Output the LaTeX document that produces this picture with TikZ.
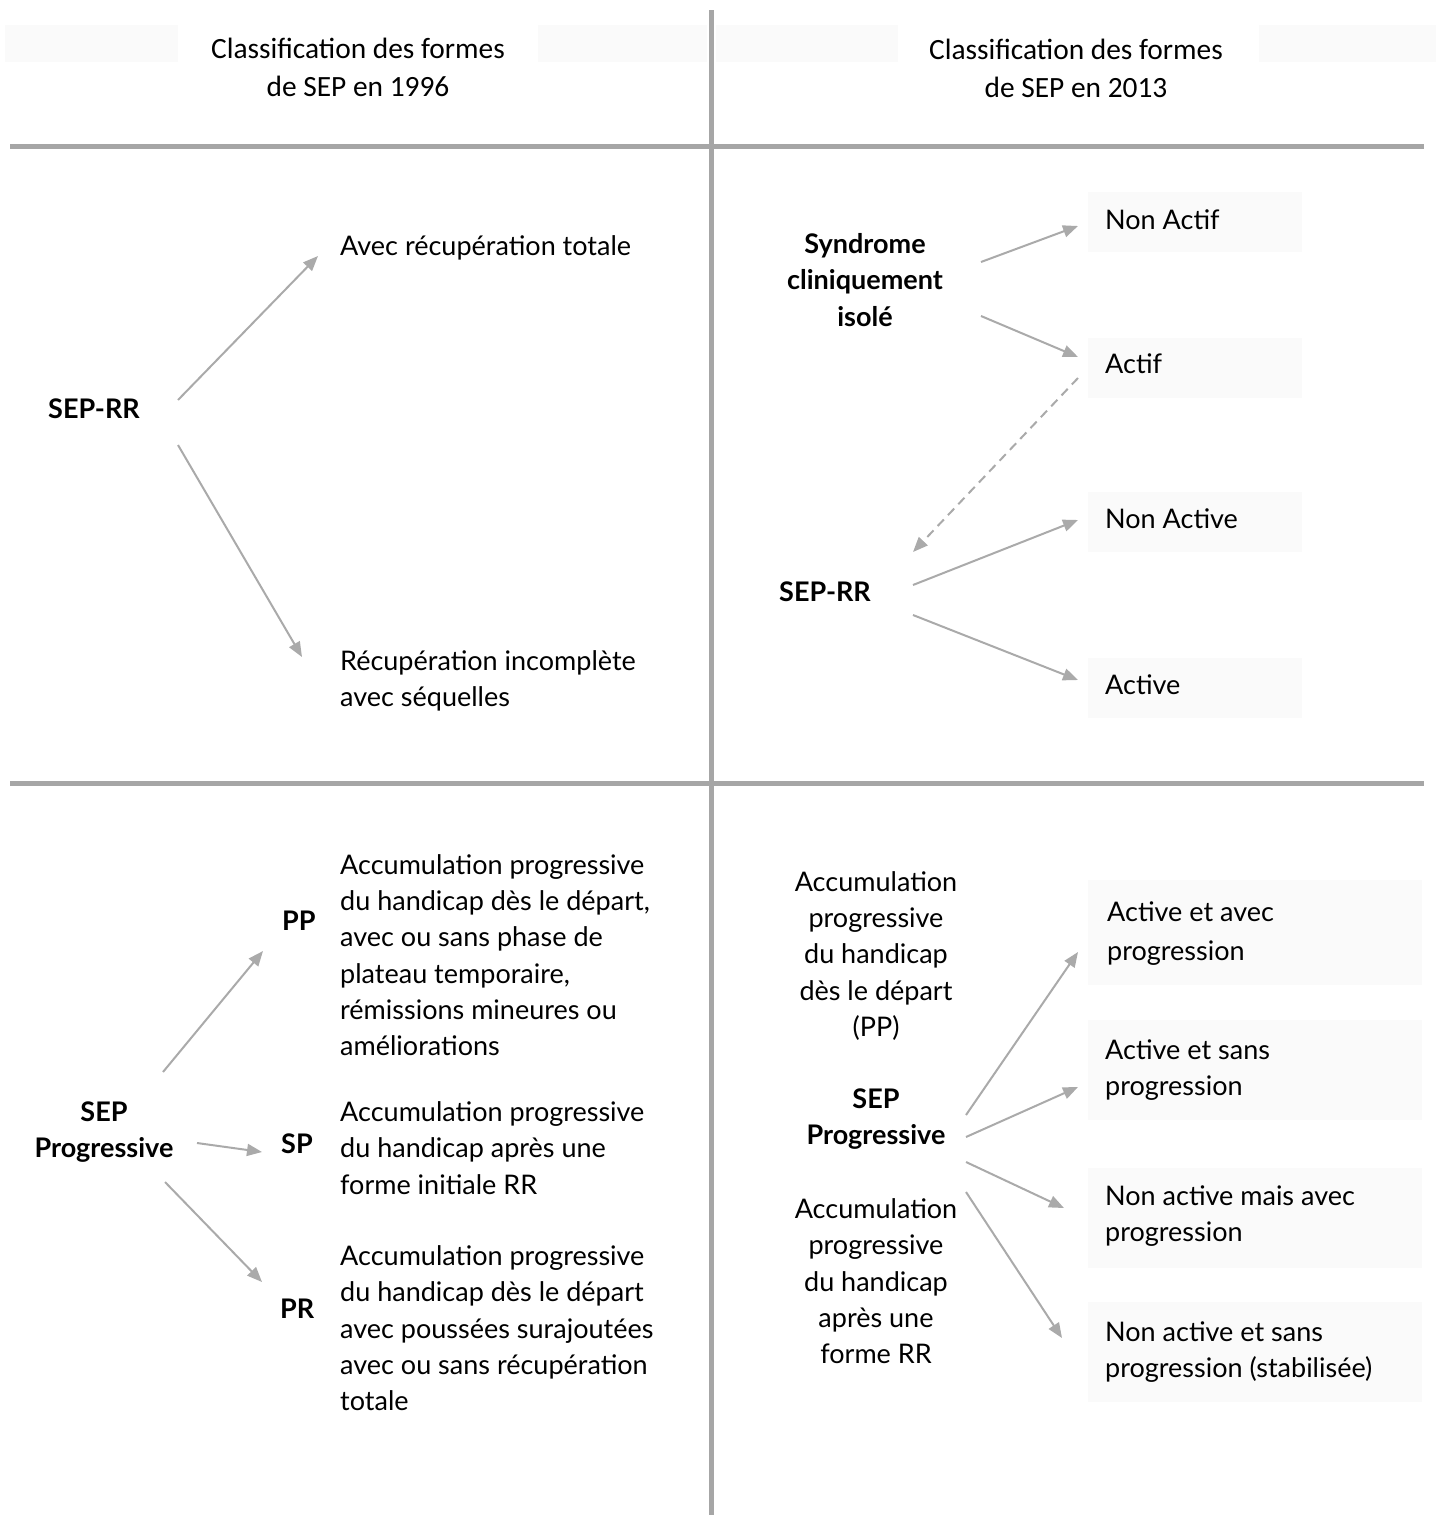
\documentclass[tikz,border=0pt]{standalone}
\usepackage{fontspec}
\setmainfont{Lato}
\newfontfamily\headfont{Carlito}
\usepackage{tikz}
\usetikzlibrary{calc}
\usetikzlibrary{arrows.meta}
\definecolor{rulegray}{HTML}{A6A6A6}
\definecolor{arrgray}{HTML}{AAAAAA}
\definecolor{boxfill}{HTML}{FAFAFA}
\tikzset{
  txt/.style={anchor=north west,inner sep=0pt,align=left,font=\fontsize{27}{36.2}\selectfont,execute at begin node=\strut},
  txtc/.style={txt,anchor=north,align=center},
  txtb/.style={txt,font=\fontsize{27}{36.2}\selectfont\bfseries},
  txtbc/.style={txtc,font=\fontsize{27}{36.2}\selectfont\bfseries},
  head/.style={anchor=north,inner sep=0pt,align=center,font=\headfont\fontsize{29.4}{38}\selectfont,execute at begin node=\strut},
  arr/.style={draw=arrgray,line width=2pt,-{Triangle[length=15pt,width=12pt]}},
  rulebar/.style={draw=rulegray,line width=5pt}
}
\begin{document}
\begin{tikzpicture}[x=1pt,y=-1pt]
\useasboundingbox (0,0) rectangle (1436,1515);
% faint background boxes
\fill[boxfill] (5,25) rectangle (178,62);
\fill[boxfill] (538,25) rectangle (707,62);
\fill[boxfill] (716,25) rectangle (898,62);
\fill[boxfill] (1259,25) rectangle (1436,62);
\fill[boxfill] (1088,192) rectangle (1302,252);
\fill[boxfill] (1088,338) rectangle (1302,398);
\fill[boxfill] (1088,492) rectangle (1302,552);
\fill[boxfill] (1088,658) rectangle (1302,718);
\fill[boxfill] (1088,880) rectangle (1422,985);
\fill[boxfill] (1088,1020) rectangle (1422,1120);
\fill[boxfill] (1088,1168) rectangle (1422,1268);
\fill[boxfill] (1088,1302) rectangle (1422,1402);
% grid
\draw[rulebar] (711,10) -- (711,1515);
\draw[rulebar] (10,146) -- (1424,146);
\draw[rulebar] (10,783) -- (1424,783);
% headers
\node[head] (h96) at (358,37.4) {Classification des formes\\de SEP en 1996};
\node[head] (h13) at (1076,38.4) {Classification des formes\\de SEP en 2013};
% 1996, SEP-RR
\node[txtb] (rr1) at (48,392.5) {SEP-RR};
\node[txt] (tot) at (340,229.5) {Avec récupération totale};
\node[txt] (inc) at (340,650.5) {Récupération incomplète\\avec séquelles};
\draw[arr] ($(rr1.north west)+(130,7.5)$) -- ($(tot.north west)+(-22,26.5)$);
\draw[arr] ($(rr1.north west)+(130,52.5)$) -- ($(inc.north west)+(-38,6.5)$);
% 2013, SCI and SEP-RR
\node[txtbc] (sci) at (865,233.5) {Syndrome\\cliniquement\\isolé};
\node[txt] (nactif) at (1105,203.5) {Non Actif};
\node[txt] (actif) at (1105,347.5) {Actif};
\node[txtb] (rr2) at (779,575.5) {SEP-RR};
\node[txt] (nactive) at (1105,502.5) {Non Active};
\node[txt] (active) at (1105,668.5) {Active};
\draw[arr] ($(sci.north)+(116,28.5)$) -- ($(nactif.north west)+(-27,22.5)$);
\draw[arr] ($(sci.north)+(116,82.5)$) -- ($(actif.north west)+(-27,9.5)$);
\draw[arr,dash pattern=on 9pt off 6pt] ($(actif.north west)+(-27,30.5)$) -- ($(rr2.north west)+(134,-23.5)$);
\draw[arr] ($(rr2.north west)+(134,9.5)$) -- ($(nactive.north west)+(-27,17.5)$);
\draw[arr] ($(rr2.north west)+(134,39.5)$) -- ($(active.north west)+(-27,11.5)$);
% 1996, progressive forms
\node[txtbc] (prog1) at (104,1101.5) {SEP\\Progressive};
\node[txtb] (pp) at (282,904.5) {PP};
\node[txtb] (sp) at (281,1127.5) {SP};
\node[txtb] (pr) at (280,1292.5) {PR};
\node[txt] (ppd) at (340,854.5) {Accumulation progressive\\du handicap dès le départ,\\avec ou sans phase de\\plateau temporaire,\\rémissions mineures ou\\améliorations};
\node[txt] (spd) at (340,1101.5) {Accumulation progressive\\du handicap après une\\forme initiale RR};
\node[txt] (prd) at (340,1245.5) {Accumulation progressive\\du handicap dès le départ\\avec poussées surajoutées\\avec ou sans récupération\\totale};
\draw[arr] ($(prog1.north)+(59,-29.5)$) -- ($(pp.north west)+(-19,46.5)$);
\draw[arr] ($(prog1.north)+(93,41.5)$) -- ($(sp.north west)+(-19,24.5)$);
\draw[arr] ($(prog1.north)+(61,80.5)$) -- ($(pr.north west)+(-18,-10.5)$);
% 2013, progressive forms
\node[txtc] (ppd2) at (876,871.5) {Accumulation\\progressive\\du handicap\\dès le départ\\(PP)};
\node[txtbc] (prog2) at (876,1088.5) {SEP\\Progressive};
\node[txtc] (spd2) at (876,1198.5) {Accumulation\\progressive\\du handicap\\après une\\forme RR};
\node[txt] (aap) at (1107,901.5) {Active et avec\\[2.5pt]progression};
\node[txt] (asp) at (1105,1039.5) {Active et sans\\progression};
\node[txt] (nmp) at (1105,1185.5) {Non active mais avec\\progression};
\node[txt] (nsp) at (1105,1321.5) {Non active et sans\\progression (stabilisée)};
\draw[arr] ($(prog2.north)+(90,26.5)$) -- ($(aap.north west)+(-29,50.5)$);
\draw[arr] ($(prog2.north)+(90,48.5)$) -- ($(asp.north west)+(-27,47.5)$);
\draw[arr] ($(prog2.north)+(90,73.5)$) -- ($(nmp.north west)+(-41,22.5)$);
\draw[arr] ($(prog2.north)+(90,103.5)$) -- ($(nsp.north west)+(-43,16.5)$);
\end{tikzpicture}
\end{document}
